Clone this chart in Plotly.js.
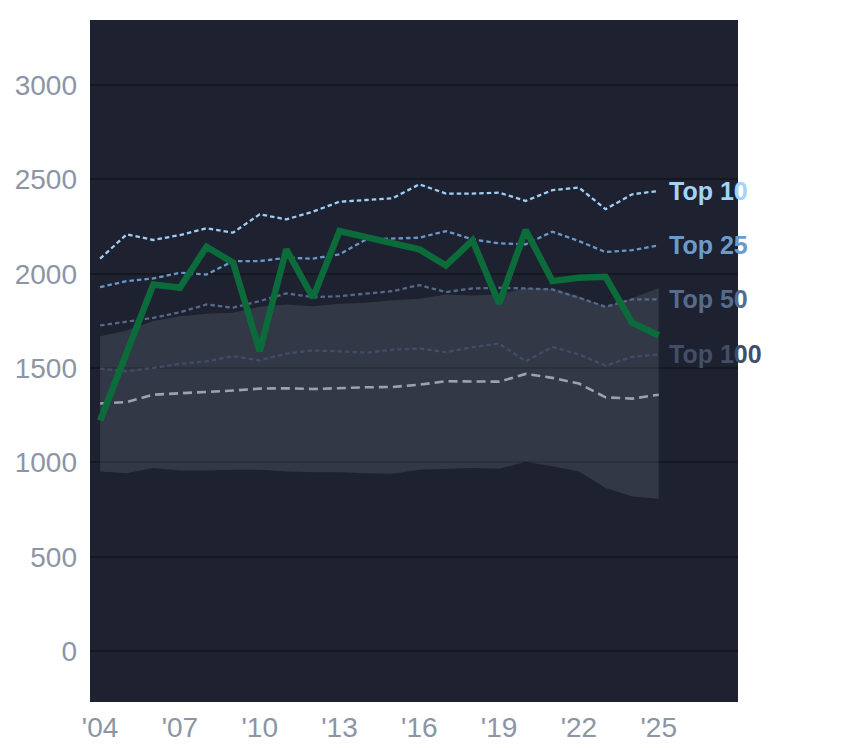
<!DOCTYPE html>
<html>
<head>
<meta charset="utf-8">
<script src="https://cdn.plot.ly/plotly-3.0.1.min.js"></script>
<style>
  html, body { margin: 0; padding: 0; background: #fff; }
  #chart { width: 844px; height: 748px; }
</style>
</head>
<body>
<div id="chart"></div>
<script>
const years = [2004, 2005, 2006, 2007, 2008, 2009, 2010, 2011, 2012, 2013, 2014,
               2015, 2016, 2017, 2018, 2019, 2020, 2021, 2022, 2023, 2024, 2025];

// highlighted series
const player = [1221, 1590, 1943, 1926, 2143, 2059, 1589, 2129, 1873, 2226, 2195,
                2160, 2129, 2044, 2177, 1842, 2232, 1961, 1979, 1984, 1740, 1673];

// rank thresholds
const top10  = [2080, 2209, 2179, 2205, 2241, 2218, 2315, 2288, 2329, 2382, 2391,
                2400, 2474, 2425, 2425, 2430, 2386, 2443, 2457, 2342, 2421, 2439];
const top25  = [1929, 1961, 1975, 2005, 1996, 2067, 2067, 2085, 2080, 2103, 2182,
                2188, 2191, 2226, 2182, 2161, 2156, 2223, 2173, 2115, 2125, 2150];
const top50  = [1726, 1745, 1766, 1796, 1837, 1820, 1855, 1896, 1876, 1881, 1894,
                1908, 1940, 1903, 1922, 1926, 1922, 1917, 1873, 1825, 1864, 1864];
const top100 = [1497, 1483, 1501, 1522, 1536, 1563, 1541, 1577, 1593, 1589, 1581,
                1598, 1604, 1584, 1611, 1630, 1536, 1612, 1572, 1513, 1559, 1572];

// median and spread band
const median    = [1312, 1320, 1359, 1365, 1372, 1381, 1391, 1393, 1389, 1395, 1398,
                   1400, 1412, 1430, 1428, 1428, 1469, 1448, 1418, 1345, 1338, 1359];
const bandLow   = [952, 943, 970, 957, 957, 961, 961, 952, 948, 948, 943,
                   940, 961, 965, 970, 966, 1002, 979, 952, 864, 819, 807];
const bandHigh  = [1669, 1699, 1749, 1775, 1788, 1793, 1825, 1837, 1828, 1841, 1846,
                   1860, 1867, 1890, 1885, 1890, 1925, 1920, 1880, 1825, 1870, 1925];

const xTickVals = [2004, 2007, 2010, 2013, 2016, 2019, 2022, 2025];
const xTickText = ["'04", "'07", "'10", "'13", "'16", "'19", "'22", "'25"];

const tiers = [
  {name: 'Top 10',  y: top10,  color: '#9fcff3', label: '#a3d3f8'},
  {name: 'Top 25',  y: top25,  color: '#6a98c6', label: '#6c9bc9'},
  {name: 'Top 50',  y: top50,  color: '#55698b', label: '#576b8c'},
  {name: 'Top 100', y: top100, color: '#414d67', label: '#434e68'},
];

const traces = [
  {x: years, y: bandLow, mode: 'lines', line: {width: 0}, hoverinfo: 'skip'},
  {x: years, y: bandHigh, mode: 'lines', line: {width: 0}, fill: 'tonexty',
   fillcolor: 'rgba(176,186,196,0.15)', hoverinfo: 'skip'},
  {x: years, y: median, mode: 'lines',
   line: {color: '#9ea2ac', width: 2.6, dash: '9px,5px'}},
];
tiers.slice().reverse().forEach(t => traces.push({
  x: years, y: t.y, mode: 'lines', name: t.name,
  line: {color: t.color, width: 2.3, dash: '4.5px,3px'}
}));
traces.push({x: years, y: player, mode: 'lines',
  line: {color: '#0c6b3b', width: 6.5}});

const font = 'Arial, "Liberation Sans", sans-serif';

const annotations = tiers.map(t => ({
  x: years[years.length - 1], y: t.y[t.y.length - 1],
  xref: 'x', yref: 'y', xanchor: 'left', yanchor: 'middle',
  xshift: 8, showarrow: false, text: t.name,
  font: {family: font, size: 25, color: t.label, weight: 'bold'}
}));

Plotly.newPlot('chart', traces, {
  width: 844, height: 748,
  margin: {l: 90, r: 106, t: 20, b: 46},
  paper_bgcolor: '#ffffff',
  plot_bgcolor: '#1d2130',
  showlegend: false,
  font: {family: font},
  xaxis: {
    range: [2003.62, 2027.98],
    tickvals: xTickVals, ticktext: xTickText,
    showgrid: false, zeroline: false, ticks: '',
    ticklabelstandoff: 6,
    tickfont: {family: font, size: 28, color: '#8b95a5'}
  },
  yaxis: {
    range: [-270, 3345],
    dtick: 500, tick0: 0,
    gridcolor: '#151821', gridwidth: 2,
    zeroline: false, ticks: '',
    ticklabelstandoff: 12,
    tickfont: {family: font, size: 28, color: '#8b95a5'}
  },
  annotations: annotations
}, {displayModeBar: false, staticPlot: true});
</script>
</body>
</html>
